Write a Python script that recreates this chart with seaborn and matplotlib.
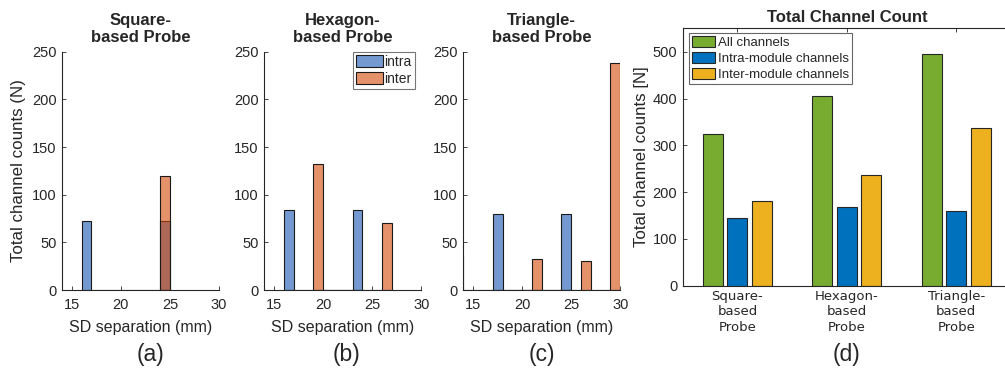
import numpy as np
import pandas as pd
import matplotlib
matplotlib.use("Agg")
import matplotlib.pyplot as plt
from matplotlib.patches import Patch
import seaborn as sns

# histogram bins: left edge of each 1 mm bin and the count in it
square_intra_bins = [16, 24]
square_intra_counts = [72, 72]
square_inter_bins = [24]
square_inter_counts = [120]

hexagon_intra_bins = [16, 23]
hexagon_intra_counts = [84, 84]
hexagon_inter_bins = [19, 26]
hexagon_inter_counts = [132, 70]

triangle_intra_bins = [17, 24]
triangle_intra_counts = [80, 80]
triangle_inter_bins = [13, 21, 26, 29]
triangle_inter_counts = [36, 32, 30, 238]

# totals per probe (d)
probe_names = ["Square-\nbased\nProbe", "Hexagon-\nbased\nProbe", "Triangle-\nbased\nProbe"]
all_channels = [324, 405, 496]
intra_channels = [144, 168, 160]
inter_channels = [180, 237, 336]
series_names = ["All channels", "Intra-module channels", "Inter-module channels"]

TXT = "#262626"
intra_col = (0.085, 0.333, 0.693)
inter_col = (0.836, 0.281, 0.026)
bar_cols = ["#77AC30", "#0072BD", "#EDB120"]

sns.set_style("ticks")
plt.rcParams["font.family"] = ["Liberation Sans", "DejaVu Sans"]
plt.rcParams["text.color"] = TXT
plt.rcParams["axes.labelcolor"] = TXT
plt.rcParams["axes.edgecolor"] = TXT
plt.rcParams["xtick.color"] = TXT
plt.rcParams["ytick.color"] = TXT

W, H = 1005, 374
fig = plt.figure(figsize=(W / 100, H / 100), dpi=100)


def px_axes(left, top, right, bottom):
    return fig.add_axes([left / W, 1 - bottom / H, (right - left) / W, (bottom - top) / H])


def draw_hist(ax, bins, counts, color):
    d = pd.DataFrame({"x": np.array(bins, dtype=float) + 0.5, "w": counts})
    n0 = len(ax.patches)
    sns.histplot(data=d, x="x", weights="w", binwidth=1,
                 binrange=(min(bins), max(bins) + 1), ax=ax)
    for p in ax.patches[n0:]:
        p.set_alpha(None)
        p.set_facecolor((*color, 0.6))
        p.set_edgecolor("#1a1a1a")
        p.set_linewidth(0.8)


hist_sets = [
    ("Square-\nbased Probe", square_intra_bins, square_intra_counts, square_inter_bins, square_inter_counts, 62),
    ("Hexagon-\nbased Probe", hexagon_intra_bins, hexagon_intra_counts, hexagon_inter_bins, hexagon_inter_counts, 264.3),
    ("Triangle-\nbased Probe", triangle_intra_bins, triangle_intra_counts, triangle_inter_bins, triangle_inter_counts, 463.3),
]

for i, (title, ib, ic, eb, ec, left) in enumerate(hist_sets):
    ax = px_axes(left, 51.7, left + 157, 290)
    draw_hist(ax, ib, ic, intra_col)
    draw_hist(ax, eb, ec, inter_col)
    ax.set_xlim(14, 30)
    ax.set_ylim(0, 250)
    ax.set_xticks([15, 20, 25, 30])
    ax.set_yticks([0, 50, 100, 150, 200, 250])
    ax.tick_params(direction="in", length=3, width=0.6, labelsize=10.5, pad=4)
    ax.tick_params(axis="x", pad=6)
    sns.despine(ax=ax)
    for s in ["left", "bottom"]:
        ax.spines[s].set_linewidth(0.8)
    ax.set_title(title, fontsize=12, fontweight="bold", pad=7, linespacing=1.2)
    ax.set_xlabel("SD separation (mm)", fontsize=11.5)
    ax.xaxis.set_label_coords(0.5, -0.126)
    if i == 0:
        ax.set_ylabel("Total channel counts (N)", fontsize=12.2)
        ax.yaxis.set_label_coords(-0.232, 0.5)
    else:
        ax.set_ylabel("")
    if i == 1:
        handles = [Patch(facecolor=(*intra_col, 0.6), edgecolor="#1a1a1a", linewidth=0.8),
                   Patch(facecolor=(*inter_col, 0.6), edgecolor="#1a1a1a", linewidth=0.8)]
        leg = ax.legend(handles, ["intra", "inter"], loc="upper right", bbox_to_anchor=(0.962, 1.0),
                        fontsize=10, frameon=True, fancybox=False, borderaxespad=0,
                        handlelength=1.9, handleheight=0.95, handletextpad=0.15,
                        labelspacing=0.2, borderpad=0.25)
        leg.get_frame().set_edgecolor("#555555")
        leg.get_frame().set_linewidth(0.8)

# (d) grouped bars
df = pd.DataFrame({
    "probe": probe_names * 3,
    "series": [s for s in series_names for _ in probe_names],
    "count": all_channels + intra_channels + inter_channels,
})
axd = px_axes(682.7, 28.3, 1011, 285.7)
sns.barplot(data=df, x="probe", y="count", hue="series", palette=bar_cols, saturation=1,
            width=0.669, gap=0.18, edgecolor="#262626", linewidth=0.8, ax=axd)
axd.set_xlim(-0.5, 2.5)
axd.set_ylim(0, 550)
axd.set_yticks([0, 100, 200, 300, 400, 500])
axd.tick_params(direction="in", length=3, width=0.6, top=True, right=True, labelsize=10.5, pad=4)
axd.tick_params(axis="x", pad=3)
for lab in axd.get_xticklabels():
    lab.set_fontfamily("DejaVu Sans")
    lab.set_fontsize(9.5)
    lab.set_linespacing(1.25)
for s in axd.spines.values():
    s.set_linewidth(0.8)
axd.set_xlabel("")
axd.set_ylabel("Total channel counts [N]", fontsize=12.2)
axd.yaxis.set_label_coords(-0.102, 0.5)
axd.set_title("Total Channel Count", fontsize=12, fontweight="bold", pad=4.5)
h, l = axd.get_legend_handles_labels()
leg = axd.legend(h, l, loc="upper left", bbox_to_anchor=(0.019, 0.982), borderaxespad=0,
                 fontsize=9.5, frameon=True, fancybox=False, handlelength=1.75, handleheight=0.9,
                 handletextpad=0.2, labelspacing=0.2, borderpad=0.25)
leg.get_frame().set_edgecolor("#404040")
leg.get_frame().set_linewidth(0.8)

for lab, x in zip(["(a)", "(b)", "(c)", "(d)"], [150.5, 346, 541.7, 846.7]):
    fig.text(x / W, 1 - 354 / H, lab, fontsize=16.5, ha="center", va="center")

fig.savefig("out.png", dpi=100)
